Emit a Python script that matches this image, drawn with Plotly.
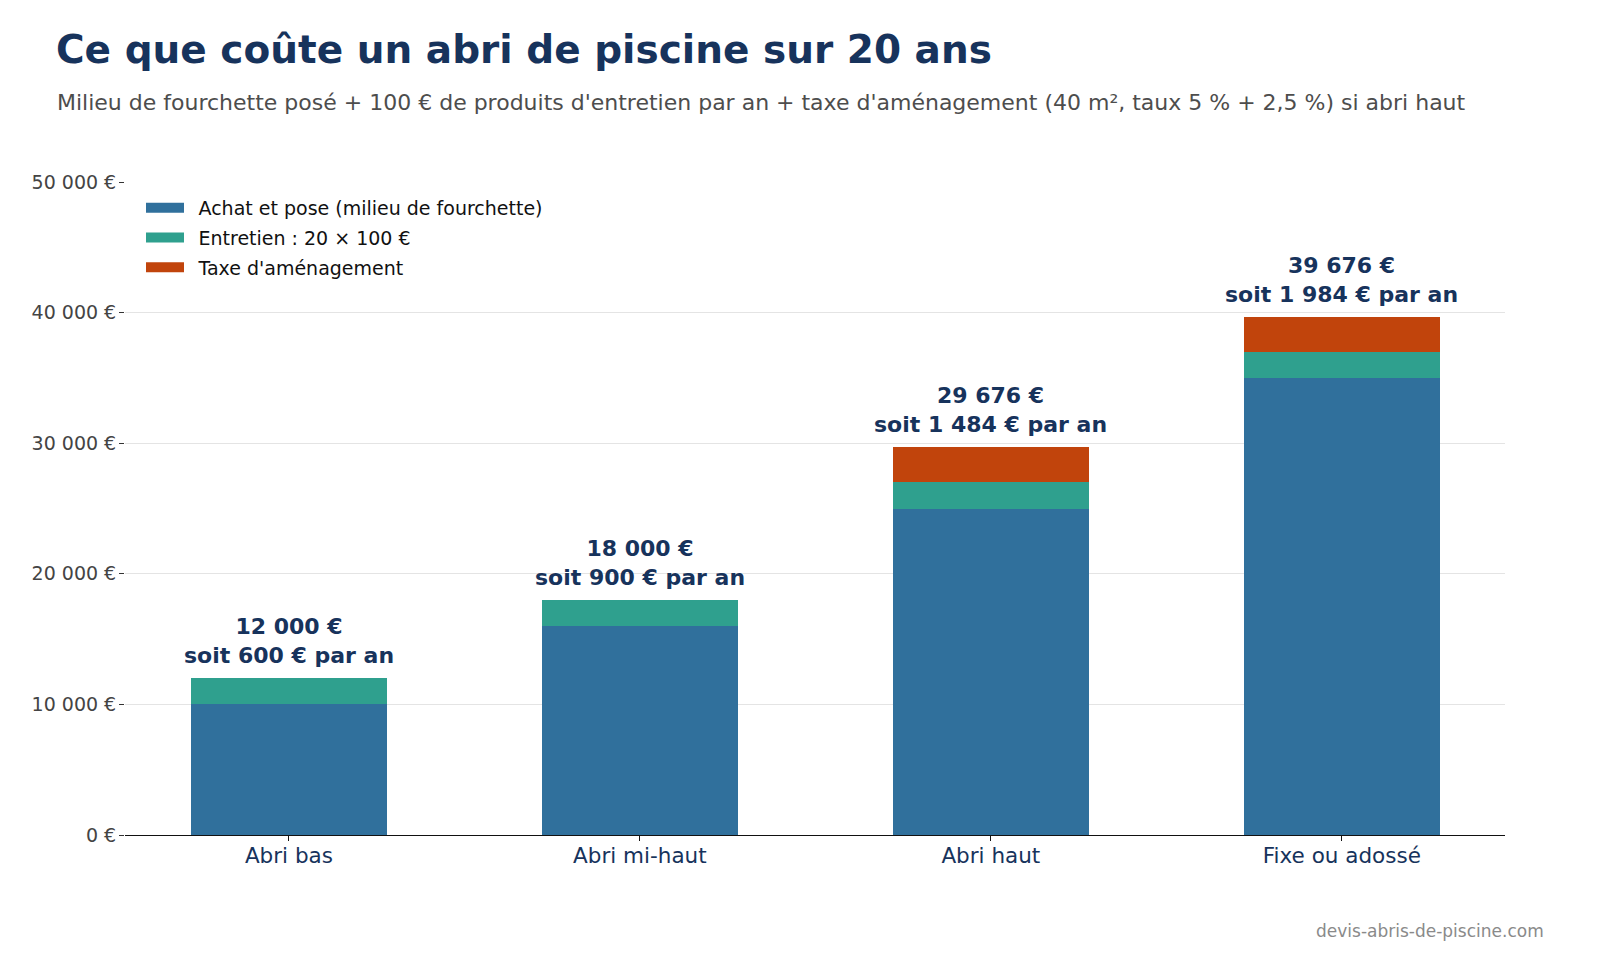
import plotly.graph_objects as go

categories = ['Abri bas', 'Abri mi-haut', 'Abri haut', 'Fixe ou adossé']
achat = [10000, 16000, 25000, 35000]
entretien = [2000, 2000, 2000, 2000]
taxe = [0, 0, 2676, 2676]
y_ticks = [0, 10000, 20000, 30000, 40000, 50000]
annees = 20

series = [
    ('Achat et pose (milieu de fourchette)', achat, '#30709c'),
    ('Entretien : 20 × 100 €', entretien, '#2fa08e'),
    ("Taxe d'aménagement", taxe, '#c1440c'),
]
navy = '#17335c'

# figure fits inside the window (body keeps its 8px margin)
W, H = 1584, 944
L, R, T, B = 117, 87, 174, 117
pw, ph = W - L - R, H - T - B


def fmt(v):
    return f'{v:,.0f}'.replace(',', ' ')


totals = [a + e + t for a, e, t in zip(achat, entretien, taxe)]

fig = go.Figure()
for i, (name, vals, col) in enumerate(series):
    fig.add_trace(go.Bar(x=categories, y=vals, name=name, marker_color=col, marker_line_width=0,
                         width=0.558, showlegend=False, legendgroup=f'g{i}'))
    # legend entry drawn as a wide swatch (thick line), no data
    fig.add_trace(go.Scatter(x=[None], y=[None], mode='lines', name='\u2002' + name, legendgroup=f'g{i}',
                             line=dict(color=col, width=14), hoverinfo='skip'))

# total labels above each stack
for cat, tot in zip(categories, totals):
    fig.add_annotation(x=cat, y=tot, text=f'<b>{fmt(tot)} €<br>soit {fmt(tot / annees)} € par an</b>',
                       showarrow=False, yanchor='bottom', yshift=8,
                       font=dict(size=22, color=navy, family='DejaVu Sans'))

fig.add_annotation(xref='paper', yref='paper', x=(1538 - L) / pw, y=-(923 - (T + ph)) / ph,
                   text='devis-abris-de-piscine.com', showarrow=False, xanchor='right', yanchor='middle',
                   font=dict(size=17, color='#8a8a8a', family='DejaVu Sans'))

fig.add_annotation(xref='paper', yref='paper', x=(47 - L) / pw, y=1 + (T - 95) / ph,
                   text="Milieu de fourchette posé + 100 € de produits d'entretien par an + taxe d'aménagement (40 m², taux 5 % + 2,5 %) si abri haut",
                   showarrow=False, xanchor='left', yanchor='middle',
                   font=dict(size=22, color='#4d4d4d', family='DejaVu Sans'))

fig.update_layout(
    barmode='stack',
    width=W, height=H,
    margin=dict(l=L, r=R, t=T, b=B),
    paper_bgcolor='white', plot_bgcolor='white',
    font=dict(family='DejaVu Sans'),
    title=dict(text='<b>Ce que coûte un abri de piscine sur 20 ans</b>', x=48 / W, xanchor='left',
               y=1 - 41 / H, yanchor='middle', font=dict(size=39, color=navy)),
    legend=dict(x=16 / pw, y=1 - 7 / ph, xanchor='left', yanchor='top', traceorder='grouped',
                tracegroupgap=2, font=dict(size=19, color='#111'), bgcolor='rgba(0,0,0,0)',
                itemwidth=38, itemclick=False),
    showlegend=True,
)

fig.update_xaxes(range=[-0.467, 3.465], showline=True, linecolor='#111', linewidth=1.2,
                 ticks='outside', ticklen=5, tickcolor='#111', ticklabelstandoff=-4,
                 tickfont=dict(size=21.5, color=navy))
fig.update_yaxes(range=[0, 50000], tickvals=y_ticks, ticktext=[f'{fmt(v)} €' for v in y_ticks],
                 showgrid=True, gridcolor='#e4e4e4', zeroline=False, showline=False,
                 ticks='outside', ticklen=5, tickcolor='#333', ticklabelstandoff=-1,
                 tickfont=dict(size=19, color='#444'))

fig.write_html('out.html')
